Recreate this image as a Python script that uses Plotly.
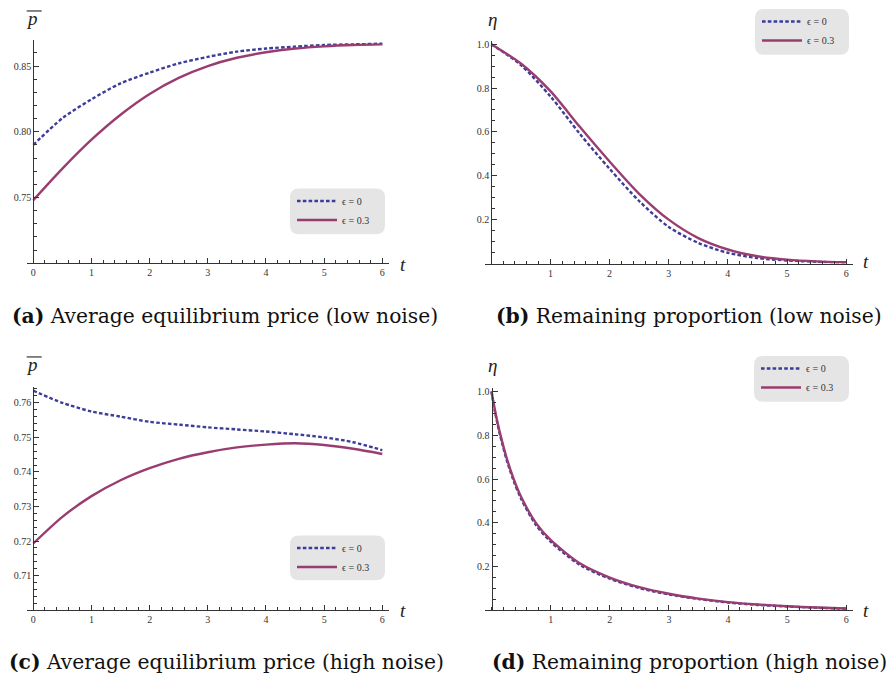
import plotly.graph_objects as go

W, H = 892, 680

# ---------------- data ----------------
t_half = [0, 0.5, 1, 1.5, 2, 2.5, 3, 3.5, 4, 4.5, 5, 5.5, 6]

price_low_eps0 = [0.790, 0.8103, 0.8247, 0.8368, 0.8450, 0.8520, 0.8570, 0.8610, 0.8633, 0.8648, 0.8660, 0.8665, 0.8670]
price_low_eps03 = [0.748, 0.7720, 0.7940, 0.8130, 0.8288, 0.8410, 0.8500, 0.8563, 0.8605, 0.8633, 0.8650, 0.8660, 0.8665]

eta_low_eps0 = [1.0, 0.905, 0.762, 0.590, 0.432, 0.285, 0.167, 0.094, 0.049, 0.025, 0.014, 0.008, 0.004]
eta_low_eps03 = [1.0, 0.912, 0.786, 0.622, 0.465, 0.318, 0.200, 0.116, 0.064, 0.033, 0.018, 0.010, 0.006]

price_high_eps0 = [0.7635, 0.7600, 0.7575, 0.7560, 0.7545, 0.7537, 0.7529, 0.7523, 0.7517, 0.7509, 0.7500, 0.7486, 0.7463]
price_high_eps03 = [0.7193, 0.7270, 0.7330, 0.7376, 0.7411, 0.7438, 0.7457, 0.7471, 0.7479, 0.7483, 0.7478, 0.7467, 0.7452]

t_high_eta = [0, 0.05, 0.1, 0.15, 0.25, 0.37, 0.5, 0.75, 1, 1.5, 2, 2.5, 3, 3.5, 4, 4.5, 5, 5.5, 6]
eta_high_eps0 = [1.0, 0.920, 0.853, 0.795, 0.693, 0.595, 0.510, 0.391, 0.314, 0.207, 0.145, 0.102, 0.073, 0.052, 0.036, 0.025, 0.018, 0.012, 0.008]
eta_high_eps03 = [1.0, 0.927, 0.861, 0.803, 0.702, 0.604, 0.519, 0.400, 0.322, 0.214, 0.150, 0.106, 0.076, 0.054, 0.038, 0.027, 0.019, 0.013, 0.009]

series_names = ["ϵ = 0", "ϵ = 0.3"]
captions = [
    "<b>(a)</b> Average equilibrium price (low noise)",
    "<b>(b)</b> Remaining proportion (low noise)",
    "<b>(c)</b> Average equilibrium price (high noise)",
    "<b>(d)</b> Remaining proportion (high noise)",
]
x_ticks_left = [0, 1, 2, 3, 4, 5, 6]
x_ticks_right = [1, 2, 3, 4, 5, 6]
y_ticks_a = [0.75, 0.80, 0.85]
y_ticks_b = [0.2, 0.4, 0.6, 0.8, 1.0]
y_ticks_c = [0.71, 0.72, 0.73, 0.74, 0.75, 0.76]

# ---------------- styling ----------------
BLUE = "#3d3d99"
PURPLE = "#993d71"
AX = "#333333"
SERIF = "Liberation Serif, Times New Roman, serif"
CAP_SERIF = "DejaVu Serif, serif"


def fx(px):
    return px / W


def fy(py):
    return 1 - py / H


# panel geometry in pixels: t0 pixel, px per unit, left, right, top, bottom, yrange
panels = {
    "a": dict(t0=33.3, ppu=58.17, left=27, right=389, top=38, bottom=262, yr=[0.70, 0.8699]),
    "b": dict(t0=491.3, ppu=59.14, left=484.5, right=853, top=39, bottom=262.3, yr=[0.0, 1.015]),
    "c": dict(t0=33.3, ppu=58.17, left=27, right=389, top=385.7, bottom=610, yr=[0.70, 0.7647]),
    "d": dict(t0=491.5, ppu=59.14, left=484.5, right=853, top=386.7, bottom=610.2, yr=[0.0, 1.018]),
}

fig = go.Figure()

data_sets = [
    ("a", t_half, price_low_eps0, price_low_eps03, "x", "y", "legend"),
    ("b", t_half, eta_low_eps0, eta_low_eps03, "x2", "y2", "legend2"),
    ("c", t_half, price_high_eps0, price_high_eps03, "x3", "y3", "legend3"),
    ("d", t_high_eta, eta_high_eps0, eta_high_eps03, "x4", "y4", "legend4"),
]

for key, tt, s0, s1, xa, ya, lg in data_sets:
    fig.add_trace(go.Scatter(
        x=tt, y=s0, mode="lines", name=series_names[0], xaxis=xa, yaxis=ya, legend=lg,
        line=dict(color=BLUE, width=2.4, dash="3.6px,2.2px", shape="spline", smoothing=0.8),
    ))
    fig.add_trace(go.Scatter(
        x=tt, y=s1, mode="lines", name=series_names[1], xaxis=xa, yaxis=ya, legend=lg,
        line=dict(color=PURPLE, width=2.4, shape="spline", smoothing=0.8),
    ))

tickfont = dict(family=SERIF, size=10, color=AX)

layout_axes = {}
axis_specs = [
    ("a", "xaxis", "yaxis", "x", "y", x_ticks_left, y_ticks_a, ".2f", 0.01),
    ("b", "xaxis2", "yaxis2", "x2", "y2", x_ticks_right, y_ticks_b, ".1f", 0.05),
    ("c", "xaxis3", "yaxis3", "x3", "y3", x_ticks_left, y_ticks_c, ".2f", 0.002),
    ("d", "xaxis4", "yaxis4", "x4", "y4", x_ticks_right, y_ticks_b, ".1f", 0.05),
]
for key, xk, yk, xid, yid, xt, yt, yfmt, ydminor in axis_specs:
    p = panels[key]
    xr = [(p["left"] - p["t0"]) / p["ppu"], (p["right"] - p["t0"]) / p["ppu"]]
    layout_axes[xk] = dict(
        domain=[fx(p["left"]), fx(p["right"])], range=xr, anchor=yid,
        showline=True, linecolor=AX, linewidth=1, showgrid=False, zeroline=False,
        ticks="inside", ticklen=5, tickwidth=1, tickcolor=AX,
        tickmode="array", tickvals=xt, ticktext=[str(v) for v in xt], tickfont=tickfont,
        minor=dict(ticks="inside", ticklen=3, tickwidth=1, tickcolor=AX,
                   tickmode="linear", tick0=0, dtick=0.2, showgrid=False),
        fixedrange=True,
    )
    layout_axes[yk] = dict(
        domain=[fy(p["bottom"]), fy(p["top"])], range=p["yr"], anchor="free",
        position=fx(p["t0"]),
        showline=True, linecolor=AX, linewidth=1, showgrid=False, zeroline=False,
        ticks="inside", ticklen=5, tickwidth=1, tickcolor=AX,
        tickmode="array", tickvals=yt, ticktext=[format(v, yfmt) for v in yt], tickfont=tickfont,
        minor=dict(ticks="inside", ticklen=3, tickwidth=1, tickcolor=AX,
                   tickmode="linear", tick0=0, dtick=ydminor, showgrid=False),
        fixedrange=True,
    )

# legend boxes (rounded) in pixel coords: left, top, right, bottom
legend_boxes = {
    "legend": (290, 187, 385, 233),
    "legend2": (755, 7, 849, 53),
    "legend3": (290, 535, 385, 580),
    "legend4": (754, 355, 849, 401),
}


def rounded_path(l, t, r, b, rad=9):
    pts = [
        ("M", l + rad, t), ("L", r - rad, t), ("Q", r, t, r, t + rad),
        ("L", r, b - rad), ("Q", r, b, r - rad, b), ("L", l + rad, b),
        ("Q", l, b, l, b - rad), ("L", l, t + rad), ("Q", l, t, l + rad, t),
    ]
    s = ""
    for cmd in pts:
        c = cmd[0]
        nums = cmd[1:]
        coords = []
        for i in range(0, len(nums), 2):
            coords.append(f"{fx(nums[i]):.5f},{fy(nums[i + 1]):.5f}")
        s += c + " " + " ".join(coords) + " "
    return s + "Z"


shapes = []
legends = {}
for lg, (l, t, r, b) in legend_boxes.items():
    shapes.append(dict(type="path", xref="paper", yref="paper", path=rounded_path(l, t, r, b),
                       fillcolor="#e5e5e5", line=dict(width=0), layer="below"))
    legends[lg] = dict(
        x=fx(l + 2), y=fy(t - 2), xanchor="left", yanchor="top",
        bgcolor="rgba(0,0,0,0)", borderwidth=0,
        font=dict(family=SERIF, size=10, color=AX), itemwidth=40,
    )

# overlines for p-bar labels
for py in (9, 356):
    shapes.append(dict(type="line", xref="paper", yref="paper",
                       x0=fx(26.7), x1=fx(41.7), y0=fy(py), y1=fy(py),
                       line=dict(color="#222222", width=1.1)))

annotations = []
label_font = dict(family=SERIF, size=19, color="#222222")
# axis labels
for txt, x, y in [("<i>p</i>", 32, 17), ("<i>p</i>", 32, 364),
                  ("<i>η</i>", 492, 18), ("<i>η</i>", 492, 365),
                  ("<i>t</i>", 403, 263), ("<i>t</i>", 403, 610),
                  ("<i>t</i>", 866, 260), ("<i>t</i>", 866, 610)]:
    annotations.append(dict(text=txt, x=fx(x), y=fy(y), xref="paper", yref="paper",
                            showarrow=False, xanchor="center", yanchor="middle", font=label_font))

cap_font = dict(family=CAP_SERIF, size=20.3, color="#111111")
for txt, x, y in [(captions[0], 225, 315), (captions[1], 689, 315),
                  (captions[2], 226, 662), (captions[3], 689, 662)]:
    annotations.append(dict(text=txt, x=fx(x), y=fy(y), xref="paper", yref="paper",
                            showarrow=False, xanchor="center", yanchor="middle", font=cap_font))

fig.update_layout(
    width=W, height=H, margin=dict(l=0, r=0, t=0, b=0),
    paper_bgcolor="white", plot_bgcolor="rgba(0,0,0,0)",
    showlegend=True, shapes=shapes, annotations=annotations,
    **layout_axes, **legends,
)

fig.write_html("out.html", config={"displayModeBar": False})
